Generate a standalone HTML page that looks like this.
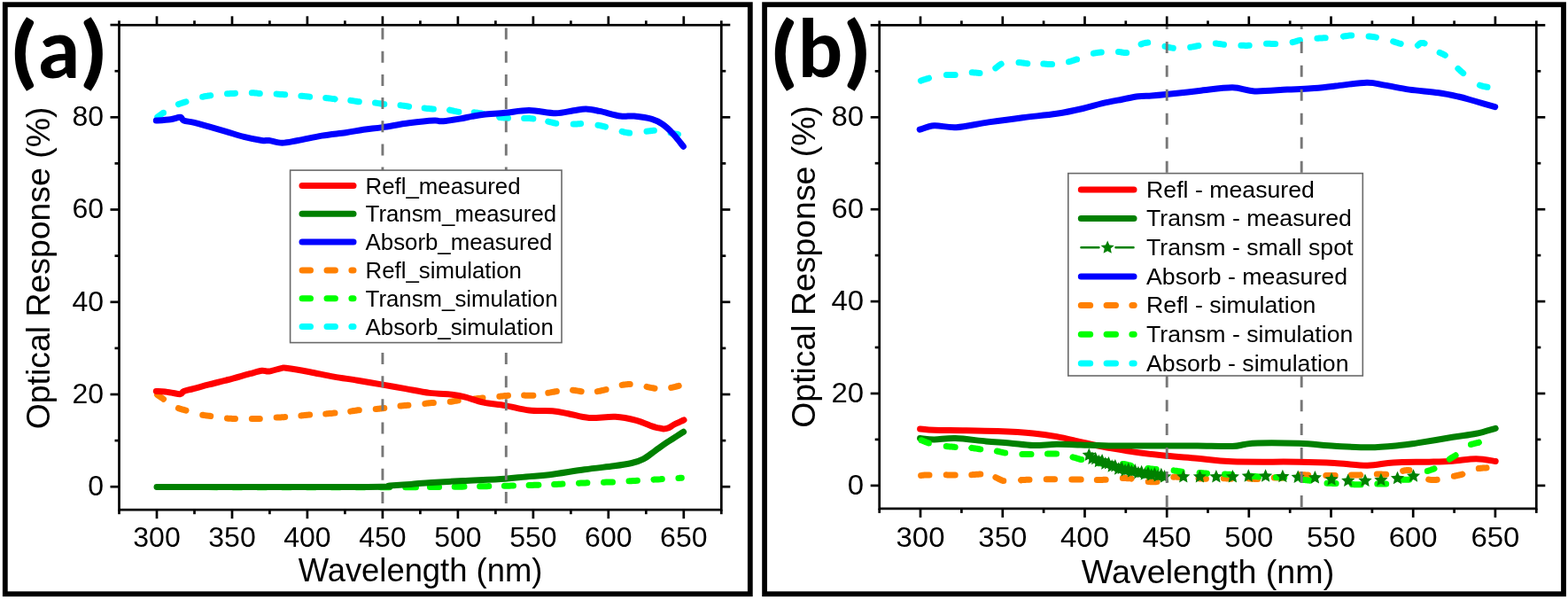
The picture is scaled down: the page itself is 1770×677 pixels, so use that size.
<!DOCTYPE html><html><head><meta charset="utf-8"><title>Optical Response</title><style>html,body{margin:0;padding:0;background:#fff;}body{width:1770px;height:677px;overflow:hidden;}svg{display:block}</style></head><body><svg width="1770" height="677" viewBox="0 0 1770 677"><rect x="5.8" y="5.2" width="841" height="665" fill="none" stroke="#000" stroke-width="5.8"/>
<rect x="863.1" y="5.2" width="901.9" height="665" fill="none" stroke="#000" stroke-width="5.8"/>
<text transform="translate(11.6 88.2) scale(1.08 1)" font-family="Carlito, Liberation Sans, sans-serif" font-weight="bold" font-size="91" fill="#000" textLength="28.35" lengthAdjust="spacingAndGlyphs" stroke="#000" stroke-width="1.3">(</text><text transform="translate(42.4 87.7)" font-family="Carlito, Liberation Sans, sans-serif" font-weight="bold" font-size="97" fill="#000" textLength="47.89" lengthAdjust="spacingAndGlyphs">a</text><text transform="translate(90.6 88.2) scale(1.08 1)" font-family="Carlito, Liberation Sans, sans-serif" font-weight="bold" font-size="91" fill="#000" textLength="28.35" lengthAdjust="spacingAndGlyphs" stroke="#000" stroke-width="1.3">)</text>
<text transform="translate(869.6 88.0) scale(1.08 1)" font-family="Carlito, Liberation Sans, sans-serif" font-weight="bold" font-size="91" fill="#000" textLength="28.35" lengthAdjust="spacingAndGlyphs" stroke="#000" stroke-width="1.3">(</text><text transform="translate(900.6 87.3)" font-family="Carlito, Liberation Sans, sans-serif" font-weight="bold" font-size="94.5" fill="#000" textLength="50.72" lengthAdjust="spacingAndGlyphs">b</text><text transform="translate(952.6 88.0) scale(1.08 1)" font-family="Carlito, Liberation Sans, sans-serif" font-weight="bold" font-size="91" fill="#000" textLength="28.35" lengthAdjust="spacingAndGlyphs" stroke="#000" stroke-width="1.3">)</text>
<path d="M177.5 445.4 L177.5 445.4 L178.3 446 L179.2 446.6 L180.2 447.3 L181.2 448 L182.2 448.7 L183.3 449.4 L184.4 450.1 L184.5 450.2M201.4 460.6 L201.4 460.6 L202.5 461 L203.6 461.3 L204.6 461.7 L205.7 462 L206.7 462.2 L207.8 462.5 L208.9 462.8 L210 463.1 L210 463.1M228.7 468.2 L228.7 468.3 L229.8 468.4 L231 468.6 L232.1 468.8 L233.2 468.9 L234.3 469.1 L235.4 469.2 L236.6 469.3 L237.7 469.5 L237.7 469.5M256.5 472.1 L256.5 472.1 L257.6 472.2 L258.8 472.2 L259.9 472.3 L261 472.3 L262.1 472.4 L263.2 472.4 L264.4 472.4 L265.5 472.5M284.3 472.5 L285.4 472.5 L286.6 472.5 L287.7 472.6 L288.8 472.6 L289.9 472.6 L291 472.6 L292.2 472.6 L293.3 472.6M312.1 471.1 L312.2 471.1 L313.4 471 L314.6 470.9 L315.7 470.9 L316.9 470.9 L318.1 470.8 L319.3 470.8 L320.5 470.7 L321.7 470.6 L321.7 470.6M339.9 469 L340 469 L341.1 468.8 L342.3 468.7 L343.5 468.6 L344.8 468.5 L346 468.3 L347.2 468.2 L348.4 468.1 L349.6 468 L349.6 468M367.7 466.9 L367.8 466.9 L369.1 466.8 L370.3 466.7 L371.6 466.6 L372.9 466.5 L374.1 466.4 L375.4 466.3 L376.7 466.1 L377.9 466 L378 466M395.7 464.1 L395.7 464.1 L396.9 463.9 L398 463.7 L399.2 463.5 L400.4 463.4 L401.6 463.2 L402.8 463 L404 462.8 L405.2 462.7 L405.3 462.7M424.2 461.5 L424.3 461.5 L425.5 461.4 L426.7 461.3 L427.9 461.2 L429 461.1 L430.2 461 L431.4 460.8 L432.6 460.7 L433.8 460.6 L433.8 460.6M452 458 L453.1 457.9 L454.2 457.8 L455.3 457.7 L456.4 457.6 L457.5 457.5 L458.6 457.4 L459.8 457.3 L460.9 457.2 L460.9 457.2M479.8 455.4 L479.9 455.4 L481.1 455.2 L482.2 455.1 L483.4 455 L484.6 454.8 L485.8 454.7 L487 454.6 L488.2 454.5 L489.3 454.4 L489.4 454.4M508.2 453.3 L508.2 453.3 L509.3 453.2 L510.5 453 L511.6 452.8 L512.7 452.6 L513.8 452.4 L514.9 452.2 L516.1 452 L517.2 451.8 L517.2 451.8M536 450 L536 450 L537.1 449.9 L538.3 449.7 L539.4 449.6 L540.5 449.5 L541.6 449.4 L542.7 449.3 L543.9 449.1 L545 449 L545 449M563.8 447.3 L563.9 447.3 L565.1 447.1 L566.3 447 L567.5 446.9 L568.7 446.7 L569.9 446.6 L571.1 446.5 L572.3 446.4 L573.5 446.3 L573.5 446.3M591.6 446.1 L591.7 446.1 L593 446.2 L594.3 446.2 L595.5 446.2 L596.8 446.2 L598.1 446.3 L599.4 446.3 L600.6 446.3 L601.9 446.2 L601.9 446.2M618.8 443.3 L618.8 443.3 L619.9 443.1 L621.1 442.9 L622.3 442.6 L623.5 442.4 L624.7 442.2 L625.9 442 L627.1 441.8 L628.3 441.6 L628.4 441.6M646.6 440.2 L646.6 440.2 L647.8 440.4 L649 440.5 L650.2 440.7 L651.4 440.9 L652.6 441.1 L653.8 441.3 L655 441.5 L656.2 441.7 L656.2 441.7M674.4 441.6 L674.4 441.6 L675.6 441.4 L676.8 441.2 L678 441 L679.2 440.7 L680.4 440.4 L681.6 440.2 L682.8 439.9 L684 439.6 L684.1 439.6M702.2 434.4 L703.3 434.2 L704.4 434 L705.5 433.9 L706.7 433.8 L707.8 433.7 L708.9 433.6 L710.1 433.6 L711.2 433.6 L711.2 433.6M730 436.4 L730 436.4 L731.1 436.7 L732.3 436.9 L733.4 437.2 L734.5 437.4 L735.6 437.6 L736.8 437.8 L737.9 438 L739 438.2 L739 438.2M757.7 437.4 L757.7 437.4 L759 437.2 L760.2 436.9 L761.4 436.6 L762.6 436.3 L763.7 436 L764.8 435.7 L765.9 435.5 L766.2 435.4" fill="none" stroke="#ff8000" stroke-width="7.0" stroke-linecap="round" stroke-linejoin="round"/>
<path d="M179.7 549.6 L189.3 549.6M207.5 549.6 L208.3 549.6 L217.1 549.6M235.3 549.6 L244.9 549.7M263.1 549.7 L272.7 549.7M290.9 549.7 L300.5 549.7M318.7 549.7 L328.3 549.7M346.5 549.7 L356.1 549.7M374.3 549.8 L383.9 549.8M402.1 549.8 L406.6 549.8 L411.7 549.8M429.9 549.8 L439.5 549.8M457.7 549.8 L458.5 549.8 L463.8 549.8 L467.2 549.8 L468.9 549.8 L469.5 549.8 L469.2 549.8 L468.5 549.8 L467.8 549.7 L467.6 549.7M485.4 549.6 L486.2 549.6 L488.5 549.6 L490.8 549.6 L493.2 549.5 L495.5 549.5 L495.6 549.5M513.2 549.3 L514.5 549.3 L516.9 549.2 L519.2 549.2 L521.6 549.2 L524 549.1 L524 549.1M541.6 548.8 L542.6 548.8 L544.9 548.8 L547.2 548.7 L549.5 548.7 L551.8 548.6 L551.8 548.6M569.4 548.3 L570.2 548.3 L572.5 548.2 L574.8 548.2 L577.1 548.1 L579.5 548.1 L579.5 548.1M597.1 547.5 L598.4 547.5 L600.8 547.4 L603.2 547.3 L605.5 547.3 L607.9 547.2 L607.9 547.2M625.6 546.5 L626 546.5 L628.3 546.4 L630.5 546.3 L632.8 546.2 L635 546.1M653.5 545.2 L655.8 545.1 L658.2 545 L660.5 544.9 L662.8 544.8 L662.9 544.8M681.5 544.2 L681.9 544.2 L684.3 544.1 L686.7 544.1 L689.1 544 L691.4 543.9 L691.5 543.9M710 542.8 L710.1 542.8 L712.4 542.7 L714.7 542.5 L717.1 542.4 L719.4 542.2 L719.4 542.2M738 541.2 L738.4 541.1 L740.7 541 L743 540.9 L745.3 540.8 L747.3 540.6M765.9 539.5 L766.1 539.5 L767.8 539.3 L769.3 539.2 L769.3 539.2" fill="none" stroke="#00ff00" stroke-width="7.0" stroke-linecap="round" stroke-linejoin="round"/>
<path d="M177.8 132 L178.6 131.5 L179.5 130.8 L180.4 130.1 L181.4 129.4 L182.4 128.7 L183.4 127.9 L184.4 127.2 L184.5 127.2M201.4 117.6 L201.4 117.6 L202.5 117.2 L203.6 116.8 L204.6 116.5 L205.7 116.1 L206.7 115.8 L207.8 115.5 L208.9 115.1 L210 114.8 L210 114.8M228.6 109.2 L228.7 109.2 L229.8 109 L231 108.7 L232.1 108.5 L233.2 108.4 L234.3 108.2 L235.4 108 L236.6 107.9 L237.7 107.7 L237.7 107.7M256.5 105.8 L256.5 105.8 L257.6 105.8 L258.8 105.7 L259.9 105.6 L261 105.6 L262.1 105.5 L263.2 105.4 L264.4 105.4 L265.5 105.3M284.3 104.7 L285.4 104.8 L286.6 104.8 L287.7 104.9 L288.8 105 L289.9 105.1 L291 105.3 L292.2 105.4 L293.3 105.4M312.1 106.1 L312.2 106.1 L313.4 106.2 L314.6 106.3 L315.7 106.4 L316.9 106.5 L318.1 106.6 L319.3 106.6 L320.5 106.7 L321.7 106.8 L321.7 106.8M339.9 108.2 L340 108.2 L341.1 108.3 L342.3 108.5 L343.5 108.6 L344.8 108.7 L346 108.8 L347.2 109 L348.4 109.1 L349.6 109.2 L349.6 109.2M367.7 110.5 L367.8 110.5 L369.1 110.7 L370.3 110.8 L371.6 111 L372.9 111.1 L374.1 111.3 L375.4 111.4 L376.7 111.6 L377.9 111.7 L378 111.8M395.8 113.4 L395.8 113.4 L397 113.6 L398.2 113.7 L399.3 113.9 L400.5 114.1 L401.7 114.3 L402.9 114.5 L404.1 114.7 L405.3 114.8 L405.3 114.8M423.5 116.1 L423.6 116.1 L424.9 116.2 L426.1 116.4 L427.4 116.6 L428.7 116.8 L429.9 117 L431.2 117.2 L432.4 117.4 L433.7 117.5 L433.8 117.5M452 118.8 L452 118.8 L453.2 118.9 L454.4 119.1 L455.6 119.3 L456.8 119.5 L458 119.6 L459.2 119.8 L460.4 120 L461.6 120.2 L461.6 120.2M479.1 122.1 L479.2 122.1 L480.4 122.2 L481.7 122.4 L482.9 122.5 L484.2 122.6 L485.5 122.7 L486.8 122.8 L488 122.9 L489.3 123 L489.4 123M507.6 124.2 L507.7 124.3 L509 124.5 L510.2 124.8 L511.5 125 L512.8 125.3 L514.1 125.6 L515.3 125.8 L516.6 126.1 L517.8 126.3 L517.9 126.3M535.3 126.8 L535.3 126.8 L536.5 126.9 L537.7 127.1 L538.9 127.2 L540.1 127.4 L541.3 127.6 L542.5 127.8 L543.7 128 L544.9 128.2 L545 128.2M563.8 132.3 L563.9 132.4 L565.1 132.5 L566.3 132.7 L567.5 132.8 L568.7 132.9 L569.9 133 L571.1 133.1 L572.3 133.2 L573.5 133.3 L573.5 133.3M591.6 133.5 L591.7 133.5 L593 133.5 L594.3 133.5 L595.5 133.6 L596.8 133.6 L598.1 133.6 L599.4 133.7 L600.6 133.8 L601.9 133.9 L601.9 133.9M618.7 137.1 L619.8 137.4 L620.9 137.7 L622 137.9 L623.1 138.2 L624.3 138.5 L625.4 138.8 L626.6 139 L627.7 139.2 L627.8 139.2M647.2 140.1 L648.2 140.1 L649.3 140 L650.4 139.9 L651.4 139.9 L652.4 139.8 L653.5 139.7 L654.6 139.7 L655.6 139.6M675 141.2 L676 141.4 L677.1 141.6 L678.2 141.8 L679.2 142.1 L680.3 142.3 L681.3 142.6 L682.4 142.8 L683.5 143.1M702.1 148.4 L703.2 148.7 L704.3 149 L705.3 149.2 L706.4 149.4 L707.4 149.6 L708.5 149.8 L709.6 150 L710.6 150.1M730 148.2 L731.1 148.1 L732.1 147.9 L733.2 147.8 L734.2 147.7 L735.3 147.5 L736.4 147.4 L737.4 147.3 L738.4 147.3M757.1 150 L757.1 150 L758.3 150.2 L759.6 150.5 L760.8 150.7 L761.9 150.9 L763.1 151.1 L764.2 151.3 L765.2 151.5 L765.5 151.6" fill="none" stroke="#00ffff" stroke-width="7.0" stroke-linecap="round" stroke-linejoin="round"/>
<path d="M176.3 441.4 C178.8 441.6 186.7 442.1 191.2 442.7 C195.7 443.2 200.7 444.9 203.4 444.7 C206.1 444.5 205 442.4 207.5 441.4 C210 440.4 213.6 439.9 218.3 438.6 C223 437.4 229.3 435.6 235.9 433.9 C242.5 432.2 249.9 430.5 257.6 428.5 C265.3 426.5 275.7 423.4 282 421.7 C288.3 420 292 418.8 295.6 418.3 C299.2 417.9 300.1 419.4 303.7 419 C307.3 418.6 314.1 416.2 317.3 415.6 C320.5 415 317.3 414.5 322.7 415.2 C328.1 415.9 340.8 418 349.8 419.7 C358.8 421.4 367.9 423.5 376.9 425.1 C385.9 426.7 394.6 427.7 403.6 429.2 C412.6 430.7 421.7 432.3 430.7 433.9 C439.7 435.5 448.8 437 457.8 438.6 C466.8 440.2 475.9 442.3 484.9 443.4 C493.9 444.5 505.2 444.6 512 445.4 C518.8 446.2 520 446.6 525.6 448.1 C531.2 449.6 538.5 452.6 545.9 454.2 C553.3 455.8 561.7 456.1 570.3 457.6 C578.9 459.1 588.6 462.1 597.5 463.1 C606.4 464.1 616.3 463.2 623.6 463.8 C630.9 464.4 634.5 465.4 641.4 466.7 C648.3 468 656.1 470.9 665 471.5 C673.9 472.1 685.7 469.8 694.6 470.3 C703.5 470.8 711.3 472.6 718.2 474.4 C725.1 476.2 731.9 479.5 735.9 480.9 C739.9 482.3 739.8 482.1 742 482.6 C744.2 483.1 746.8 483.9 748.9 483.9 C751 483.9 752.8 483.5 754.8 482.7 C756.8 481.9 758.1 480.5 761 479 C763.9 477.5 770.2 474.7 772 473.8" fill="none" stroke="#ff0000" stroke-width="7.0" stroke-linecap="round" stroke-linejoin="round"/>
<path d="M177 549.4 C216.7 549.4 371.2 549.6 415 549.4 C458.8 549.2 431.9 548.5 440 548 C448.1 547.5 455.7 547 463.6 546.4 C471.5 545.8 477.4 545 487.3 544.4 C497.2 543.8 508.9 543.3 522.7 542.6 C536.5 541.9 558.2 541.1 570 540.3 C581.8 539.5 585.4 538.6 593.7 537.9 C602 537.1 609 537.1 620 535.8 C631 534.4 647.7 531.5 659.9 529.8 C672.1 528.1 684.2 527 693.1 525.8 C702 524.6 707.6 523.8 713.1 522.5 C718.6 521.2 722 520.2 726.4 517.9 C730.8 515.6 735.2 511.7 739.6 508.6 C744 505.5 747.6 502.8 752.9 499.2 C758.2 495.6 768.5 489.3 771.6 487.3" fill="none" stroke="#008000" stroke-width="7.0" stroke-linecap="round" stroke-linejoin="round"/>
<path d="M176.3 136.1 C179 135.9 188 135.3 192.5 134.7 C197 134.1 200.9 132.1 203.4 132.3 C205.9 132.5 205 135.1 207.5 136.1 C210 137.1 213.6 137 218.3 138.1 C223 139.2 229.8 141.2 235.9 142.9 C242 144.6 248.3 146.4 254.9 148.3 C261.5 150.2 268.5 152.7 275.3 154.4 C282.1 156.1 290.9 157.8 295.6 158.5 C300.3 159.2 299.9 158.1 303.7 158.5 C307.5 158.9 313.2 161.2 318.6 161.2 C324 161.2 328.8 159.8 336.3 158.5 C343.8 157.2 354.4 154.6 363.4 153.1 C372.3 151.6 382.2 150.8 390 149.7 C397.8 148.6 403.3 147.3 410.3 146.3 C417.3 145.3 423.4 144.8 432 143.6 C440.6 142.3 452.2 140.1 461.9 138.8 C471.6 137.6 484.2 136.4 490.3 136.1 C496.4 135.8 493.8 137.1 498.5 136.8 C503.2 136.5 513.1 135 518.8 134.1 C524.4 133.2 527.9 132.2 532.4 131.4 C536.9 130.6 539.6 130 545.9 129.3 C552.2 128.6 561.7 128.1 570.3 127.3 C578.9 126.5 588 124.5 597.5 124.6 C607 124.7 618.9 127.8 627.2 127.8 C635.5 127.8 641.6 125.6 647.3 124.8 C653 124 656.6 122.9 661.5 123 C666.4 123.1 670.3 124.1 676.8 125.4 C683.3 126.7 694 130.1 700.5 131 C707 131.9 709.9 130.4 715.8 131 C721.7 131.6 730.6 132.8 735.9 134.3 C741.2 135.8 743.8 137.4 747.8 140.2 C751.8 142.9 755.7 146.6 759.6 150.8 C763.5 155 769.4 162.9 771.4 165.3" fill="none" stroke="#0000ff" stroke-width="7.0" stroke-linecap="round" stroke-linejoin="round"/>
<line x1="431.9" y1="28.3" x2="431.9" y2="575.2" stroke="#777" stroke-width="2.9" stroke-dasharray="13 13.17" stroke-dashoffset="22.87"/>
<line x1="571.3" y1="28.3" x2="571.3" y2="575.2" stroke="#777" stroke-width="2.9" stroke-dasharray="13 13.17" stroke-dashoffset="22.87"/>
<g stroke="#000" stroke-width="2.7" stroke-linecap="butt"><line x1="134.5" y1="575.2" x2="134.5" y2="580.2"/><line x1="134.5" y1="28.3" x2="134.5" y2="23.3"/><line x1="177" y1="575.2" x2="177" y2="585.2"/><line x1="177" y1="28.3" x2="177" y2="18.3"/><line x1="219.5" y1="575.2" x2="219.5" y2="580.2"/><line x1="219.5" y1="28.3" x2="219.5" y2="23.3"/><line x1="262" y1="575.2" x2="262" y2="585.2"/><line x1="262" y1="28.3" x2="262" y2="18.3"/><line x1="304.4" y1="575.2" x2="304.4" y2="580.2"/><line x1="304.4" y1="28.3" x2="304.4" y2="23.3"/><line x1="346.9" y1="575.2" x2="346.9" y2="585.2"/><line x1="346.9" y1="28.3" x2="346.9" y2="18.3"/><line x1="389.4" y1="575.2" x2="389.4" y2="580.2"/><line x1="389.4" y1="28.3" x2="389.4" y2="23.3"/><line x1="431.9" y1="575.2" x2="431.9" y2="585.2"/><line x1="431.9" y1="28.3" x2="431.9" y2="18.3"/><line x1="474.4" y1="575.2" x2="474.4" y2="580.2"/><line x1="474.4" y1="28.3" x2="474.4" y2="23.3"/><line x1="516.9" y1="575.2" x2="516.9" y2="585.2"/><line x1="516.9" y1="28.3" x2="516.9" y2="18.3"/><line x1="559.4" y1="575.2" x2="559.4" y2="580.2"/><line x1="559.4" y1="28.3" x2="559.4" y2="23.3"/><line x1="601.9" y1="575.2" x2="601.9" y2="585.2"/><line x1="601.9" y1="28.3" x2="601.9" y2="18.3"/><line x1="644.4" y1="575.2" x2="644.4" y2="580.2"/><line x1="644.4" y1="28.3" x2="644.4" y2="23.3"/><line x1="686.8" y1="575.2" x2="686.8" y2="585.2"/><line x1="686.8" y1="28.3" x2="686.8" y2="18.3"/><line x1="729.3" y1="575.2" x2="729.3" y2="580.2"/><line x1="729.3" y1="28.3" x2="729.3" y2="23.3"/><line x1="771.8" y1="575.2" x2="771.8" y2="585.2"/><line x1="771.8" y1="28.3" x2="771.8" y2="18.3"/><line x1="814.3" y1="575.2" x2="814.3" y2="580.2"/><line x1="814.3" y1="28.3" x2="814.3" y2="23.3"/><line x1="134.5" y1="549.2" x2="124.5" y2="549.2"/><line x1="814.3" y1="549.2" x2="824.3" y2="549.2"/><line x1="134.5" y1="497.1" x2="129.5" y2="497.1"/><line x1="814.3" y1="497.1" x2="819.3" y2="497.1"/><line x1="134.5" y1="445" x2="124.5" y2="445"/><line x1="814.3" y1="445" x2="824.3" y2="445"/><line x1="134.5" y1="392.9" x2="129.5" y2="392.9"/><line x1="814.3" y1="392.9" x2="819.3" y2="392.9"/><line x1="134.5" y1="340.8" x2="124.5" y2="340.8"/><line x1="814.3" y1="340.8" x2="824.3" y2="340.8"/><line x1="134.5" y1="288.7" x2="129.5" y2="288.7"/><line x1="814.3" y1="288.7" x2="819.3" y2="288.7"/><line x1="134.5" y1="236.5" x2="124.5" y2="236.5"/><line x1="814.3" y1="236.5" x2="824.3" y2="236.5"/><line x1="134.5" y1="184.4" x2="129.5" y2="184.4"/><line x1="814.3" y1="184.4" x2="819.3" y2="184.4"/><line x1="134.5" y1="132.3" x2="124.5" y2="132.3"/><line x1="814.3" y1="132.3" x2="824.3" y2="132.3"/><line x1="134.5" y1="80.2" x2="129.5" y2="80.2"/><line x1="814.3" y1="80.2" x2="819.3" y2="80.2"/><line x1="134.5" y1="28.1" x2="124.5" y2="28.1"/><line x1="814.3" y1="28.1" x2="824.3" y2="28.1"/><rect x="134.5" y="28.3" width="679.8" height="546.9" fill="none"/></g><g font-family="Liberation Sans, Arial, sans-serif" font-size="32" fill="#000"><text transform="translate(177 617.1) scale(1.0 1)" text-anchor="middle">300</text><text transform="translate(262 617.1) scale(1.0 1)" text-anchor="middle">350</text><text transform="translate(346.9 617.1) scale(1.0 1)" text-anchor="middle">400</text><text transform="translate(431.9 617.1) scale(1.0 1)" text-anchor="middle">450</text><text transform="translate(516.9 617.1) scale(1.0 1)" text-anchor="middle">500</text><text transform="translate(601.9 617.1) scale(1.0 1)" text-anchor="middle">550</text><text transform="translate(686.8 617.1) scale(1.0 1)" text-anchor="middle">600</text><text transform="translate(771.8 617.1) scale(1.0 1)" text-anchor="middle">650</text><text transform="translate(117 558.9) scale(1.0 1)" text-anchor="end">0</text><text transform="translate(117 454.7) scale(1.0 1)" text-anchor="end">20</text><text transform="translate(117 350.5) scale(1.0 1)" text-anchor="end">40</text><text transform="translate(117 246.2) scale(1.0 1)" text-anchor="end">60</text><text transform="translate(117 142) scale(1.0 1)" text-anchor="end">80</text></g>
<rect x="327.6" y="192.1" width="306.4" height="194.5" fill="#fff" stroke="#6a6a6a" stroke-width="1.6"/><line x1="341" y1="209.5" x2="399" y2="209.5" stroke="#ff0000" stroke-width="7.0" stroke-linecap="round"/><text x="412.6" y="218.5" font-family="Liberation Sans, Arial, sans-serif" font-size="25.8" fill="#000">Refl_measured</text><line x1="341" y1="241.3" x2="399" y2="241.3" stroke="#008000" stroke-width="7.0" stroke-linecap="round"/><text x="412.6" y="250.3" font-family="Liberation Sans, Arial, sans-serif" font-size="25.8" fill="#000">Transm_measured</text><line x1="341" y1="273.1" x2="399" y2="273.1" stroke="#0000ff" stroke-width="7.0" stroke-linecap="round"/><text x="412.6" y="282.1" font-family="Liberation Sans, Arial, sans-serif" font-size="25.8" fill="#000">Absorb_measured</text><line x1="341.1" y1="304.9" x2="399" y2="304.9" stroke="#ff8000" stroke-width="7.0" stroke-linecap="round" stroke-dasharray="9.4 18.5"/><text x="412.6" y="313.9" font-family="Liberation Sans, Arial, sans-serif" font-size="25.8" fill="#000">Refl_simulation</text><line x1="341.1" y1="336.7" x2="399" y2="336.7" stroke="#00ff00" stroke-width="7.0" stroke-linecap="round" stroke-dasharray="9.4 18.5"/><text x="412.6" y="345.7" font-family="Liberation Sans, Arial, sans-serif" font-size="25.8" fill="#000">Transm_simulation</text><line x1="341.1" y1="368.5" x2="399" y2="368.5" stroke="#00ffff" stroke-width="7.0" stroke-linecap="round" stroke-dasharray="9.4 18.5"/><text x="412.6" y="377.5" font-family="Liberation Sans, Arial, sans-serif" font-size="25.8" fill="#000">Absorb_simulation</text>
<text transform="translate(474.5 656.3)" text-anchor="middle" font-family="Liberation Sans, Arial, sans-serif" font-size="36.4" fill="#000">Wavelength (nm)</text>
<text transform="translate(56 302.5) rotate(-90)" text-anchor="middle" font-family="Liberation Sans, Arial, sans-serif" font-size="37.4" fill="#000">Optical Response (%)</text>
<path d="M1038.6 484 C1041.3 484.2 1046.6 485 1054.6 485.3 C1062.6 485.6 1074.5 485.5 1086.5 485.7 C1098.5 485.9 1113.1 486.1 1126.4 486.6 C1139.7 487.1 1155.2 487.9 1166.3 488.9 C1177.4 489.9 1184 491 1192.9 492.6 C1201.9 494.2 1212.2 496.9 1220 498.6 C1227.8 500.3 1229.4 501.1 1239.6 503 C1249.8 504.9 1268.1 508.2 1280.9 510.1 C1293.7 512 1304.6 513.1 1316.4 514.3 C1328.2 515.5 1339.4 516.1 1351.8 517.2 C1364.2 518.3 1371.8 520.1 1390.9 520.8 C1410 521.5 1447.2 520.9 1466.5 521.2 C1485.8 521.5 1493.6 521.8 1506.4 522.5 C1519.2 523.2 1532.5 525.3 1543.6 525.2 C1554.7 525.1 1561.3 522.6 1572.9 521.9 C1584.5 521.2 1602.1 521.5 1613.2 521.2 C1624.3 520.9 1630.9 520.8 1639.7 520.2 C1648.5 519.6 1658.2 517.8 1666.3 517.8 C1674.4 517.8 1684.5 520 1688.2 520.5" fill="none" stroke="#ff0000" stroke-width="7.0" stroke-linecap="round" stroke-linejoin="round"/>
<path d="M1038.6 494.6 C1041.3 494.8 1047.9 495.9 1054.6 495.9 C1061.2 495.9 1068.8 494.3 1078.5 494.6 C1088.2 494.9 1102.9 497 1113.1 497.9 C1123.3 498.8 1130.8 499.1 1139.7 499.9 C1148.6 500.7 1157.4 502.4 1166.3 502.6 C1175.2 502.8 1184 501.4 1192.9 501.3 C1201.9 501.2 1209.3 501.6 1220 501.9 C1230.7 502.2 1241.2 502.8 1257.3 503 C1273.4 503.2 1300.7 503 1316.4 503 C1332.2 503 1339.4 502.9 1351.8 503 C1364.2 503.1 1382 503.8 1390.9 503.5 C1399.8 503.2 1400.2 502.1 1405 501.5 C1409.8 500.9 1409.7 500.1 1419.9 499.9 C1430.2 499.7 1452.1 499.8 1466.5 500.3 C1480.9 500.9 1493.1 502.4 1506.4 503.2 C1519.7 503.9 1534.1 504.9 1546.3 504.8 C1558.5 504.7 1570.6 503.4 1579.5 502.6 C1588.4 501.8 1589.9 501.4 1599.9 499.9 C1609.9 498.3 1628.6 495.1 1639.7 493.3 C1650.8 491.5 1658.2 491 1666.3 489.3 C1674.4 487.6 1684.5 484.3 1688.2 483.3" fill="none" stroke="#008000" stroke-width="7.0" stroke-linecap="round" stroke-linejoin="round"/>
<path d="M1038.2 146.2 C1040.9 145.5 1047.7 142.2 1054.6 141.8 C1061.5 141.4 1069.3 144.3 1079.5 143.7 C1089.7 143 1103.5 139.7 1116 137.9 C1128.5 136.1 1141.6 134.3 1154.4 132.7 C1167.2 131.1 1181.5 130 1192.8 128.3 C1204.1 126.6 1213.6 124.5 1222.2 122.5 C1230.8 120.5 1236.9 118.3 1244.3 116.6 C1251.7 114.9 1259.7 113.5 1266.5 112.2 C1273.3 110.9 1279.3 109.5 1284.9 108.8 C1290.5 108.1 1294.7 108.5 1300 108.1 C1305.3 107.7 1307.6 107.5 1316.5 106.6 C1325.4 105.7 1341 103.8 1353.4 102.5 C1365.9 101.2 1380.7 98.7 1391.2 98.8 C1401.7 98.9 1405.9 102.5 1416.2 102.9 C1426.5 103.3 1442.5 101.6 1453.1 101.1 C1463.7 100.6 1470.9 100.5 1480 99.8 C1489.1 99.1 1497.2 98.1 1507.7 97 C1518.2 95.9 1533.6 93.5 1542.8 93.3 C1552 93.1 1555.1 94.8 1563.1 96.1 C1571.1 97.4 1580.6 99.6 1590.8 101.1 C1601 102.5 1614.8 103.5 1624 104.8 C1633.2 106.1 1639.4 107.5 1646.2 109 C1653 110.5 1657.7 112.1 1664.6 114 C1671.5 115.9 1683.8 119.5 1687.7 120.6" fill="none" stroke="#0000ff" stroke-width="7.0" stroke-linecap="round" stroke-linejoin="round"/>
<path d="M1039.6 536.4 L1039.8 536.4 L1040.9 536.3 L1042.1 536.2 L1043.4 536.1 L1044.7 536.1 L1046.1 536 L1047.4 535.9 L1048.8 535.9 L1049 535.9M1068.2 535.8 L1068.3 535.8 L1069.6 535.9 L1070.8 535.9 L1072 535.9 L1073.2 536 L1074.5 536 L1075.7 536 L1076.9 536.1 L1078.1 536.1 L1078.2 536.1M1096.8 535.7 L1096.9 535.7 L1098.2 535.6 L1099.4 535.5 L1100.6 535.4 L1101.9 535.3 L1103.1 535.2 L1104.4 535.2 L1105.6 535.1 L1106.8 535.1 L1106.8 535.1M1123.9 538.6 L1124.9 539.1 L1126 539.6 L1127.1 540.2 L1128.2 540.7 L1129.3 541.2 L1130.4 541.7 L1131.5 542.2 L1132.7 542.6 L1132.8 542.6M1152.6 541.7 L1152.7 541.6 L1153.9 541.6 L1155 541.5 L1156.2 541.5 L1157.3 541.4 L1158.5 541.3 L1159.6 541.3 L1160.8 541.2 L1161.9 541.2 L1162 541.2M1181.2 540.7 L1181.3 540.7 L1182.4 540.7 L1183.6 540.7 L1184.7 540.7 L1185.9 540.7 L1187.1 540.7 L1188.2 540.7 L1189.4 540.7 L1190.5 540.7 L1190.6 540.7M1209.8 541.1 L1210 541.1 L1211.3 541.1 L1212.5 541.1 L1213.8 541.1 L1215.1 541.1 L1216.3 541.1 L1217.6 541.1 L1218.8 541.1 L1220.1 541.1 L1220.2 541.1M1238.3 541.5 L1238.4 541.5 L1239.6 541.5 L1240.8 541.5 L1242 541.4 L1243.2 541.4 L1244.4 541.4 L1245.6 541.3 L1246.9 541.3 L1248.1 541.2 L1248.2 541.2M1267.3 539.6 L1267.4 539.6 L1268.6 539.6 L1269.8 539.6 L1271 539.6 L1272.2 539.7 L1273.4 539.7 L1274.6 539.8 L1275.8 539.8 L1277 539.9 L1277.1 540M1296.2 543.5 L1296.3 543.5 L1297.5 543.6 L1298.7 543.7 L1299.9 543.8 L1301.2 543.8 L1302.4 543.8 L1303.6 543.8 L1304.8 543.7 L1306 543.6 L1306.1 543.6M1324.8 538.2 L1325.1 538.2 L1326.3 538.1 L1327.4 538.1 L1328.5 538.2 L1329.7 538.2 L1330.8 538.3 L1331.9 538.4 L1333.1 538.5 L1334.2 538.6 L1334.2 538.6M1353 539.8 L1354 539.9 L1355 540 L1356.1 540 L1357.1 540.1 L1358.2 540.2 L1359.2 540.2 L1360.3 540.2 L1361.4 540.3M1381.3 539.7 L1382.4 539.8 L1383.4 539.8 L1384.5 539.9 L1385.5 540 L1386.5 540.1 L1387.6 540.1 L1388.6 540.2 L1389.7 540.2M1409.8 540.1 L1410 540.1 L1411.2 540.1 L1412.4 540.2 L1413.6 540.3 L1414.8 540.3 L1416 540.4 L1417.2 540.5 L1418.4 540.5 L1419.6 540.5 L1419.7 540.5M1438.3 538.9 L1438.3 538.9 L1439.5 539 L1440.6 539 L1441.8 539 L1443 539.1 L1444.1 539.1 L1445.3 539.2 L1446.5 539.2 L1447.6 539.2 L1447.7 539.2M1466.8 535.8 L1466.9 535.8 L1468.1 535.8 L1469.3 535.8 L1470.5 535.8 L1471.7 535.8 L1472.9 535.8 L1474.1 535.9 L1475.3 535.9 L1476.5 535.9 L1476.7 535.9M1496.8 536.5 L1497 536.5 L1498.3 536.5 L1499.6 536.6 L1500.9 536.6 L1502.1 536.6 L1503.4 536.6 L1504.6 536.6 L1505.9 536.5 L1507.1 536.5 L1507.2 536.5M1525.3 536 L1525.4 536 L1526.7 536 L1527.9 536 L1529.2 536 L1530.5 536 L1531.7 536 L1533 536.1 L1534.3 536.1 L1535.5 536.1 L1535.7 536M1554.3 535 L1554.5 535 L1555.7 535 L1557 535 L1558.2 535.1 L1559.5 535.1 L1560.7 535.2 L1562 535.2 L1563.3 535.2 L1564.5 535.2 L1564.7 535.2M1583.6 531.4 L1584.3 531.2 L1585.2 531 L1586.2 530.8 L1587.1 530.7 L1588 530.6 L1588.9 530.5 L1589.9 530.5 L1590.9 530.6 L1591 530.6M1612.7 541 L1613 541.1 L1614.2 541.3 L1615.4 541.4 L1616.5 541.5 L1617.7 541.5 L1618.8 541.5 L1619.9 541.5 L1621 541.4 L1622.2 541.3 L1622.2 541.3M1641.3 537.3 L1641.5 537.3 L1642.6 537 L1643.8 536.8 L1644.9 536.5 L1646.1 536.3 L1647.2 536 L1648.4 535.8 L1649.5 535.5 L1650.7 535.2 L1650.8 535.1M1669.3 528.6 L1669.3 528.6 L1670.5 528.5 L1671.7 528.3 L1672.9 528.2 L1674 528.1 L1675.2 528.1 L1676.3 528 L1677.4 528 L1678 527.9" fill="none" stroke="#ff8000" stroke-width="7.0" stroke-linecap="round" stroke-linejoin="round"/>
<path d="M1040.1 496.8 L1040.2 496.8 L1041.2 497.2 L1042.2 497.6 L1043.3 498.1 L1044.5 498.6 L1045.7 499 L1047 499.5 L1048.2 499.9 L1048.4 499.9M1068.2 503.5 L1068.4 503.5 L1069.6 503.7 L1070.8 503.8 L1072.1 503.9 L1073.3 504 L1074.5 504.1 L1075.7 504.2 L1076.9 504.3 L1078.1 504.4 L1078.2 504.4M1096.8 505.4 L1096.9 505.5 L1098.1 505.6 L1099.3 505.8 L1100.6 506 L1101.8 506.1 L1103 506.3 L1104.3 506.5 L1105.5 506.7 L1106.7 506.9 L1106.8 506.9M1125.4 509 L1125.4 509 L1126.6 509.3 L1127.7 509.5 L1128.9 509.8 L1130 510.1 L1131.2 510.3 L1132.3 510.6 L1133.5 510.9 L1134.6 511.1 L1134.7 511.1M1153.9 512.6 L1154.1 512.6 L1155.3 512.6 L1156.5 512.6 L1157.8 512.6 L1159 512.5 L1160.2 512.5 L1161.5 512.5 L1162.7 512.4 L1163.9 512.4 L1164 512.4M1182.5 511.9 L1182.6 511.9 L1183.8 511.9 L1185.1 511.9 L1186.3 511.9 L1187.5 511.9 L1188.8 511.9 L1190 512 L1191.3 512 L1192.5 512.1 L1192.6 512.1M1211 515.8 L1212 516.1 L1213.1 516.4 L1214.1 516.7 L1215.1 517 L1216.2 517.3 L1217.3 517.6 L1218.4 518 L1219.5 518.3 L1220.7 518.6 L1220.8 518.6M1239.8 522.5 L1240 522.5 L1241.2 522.7 L1242.3 522.8 L1243.3 523 L1244.3 523.1 L1245.2 523.2 L1246.1 523.2 L1247 523.3 L1247.9 523.3 L1248.9 523.4 L1249.2 523.4M1267.3 523.5 L1267.7 523.5 L1268.7 523.6 L1269.7 523.7 L1270.5 523.9 L1271.3 524 L1272 524.2 L1272.7 524.4 L1273.5 524.6 L1274.3 524.8 L1275.2 525 L1276.1 525.2 L1276.7 525.4M1295.8 528.5 L1296.2 528.5 L1298.1 528.8 L1300 529 L1301.9 529.2 L1303.8 529.4 L1305.2 529.5M1325.1 530.9 L1325.6 531 L1326.8 531.2 L1327.9 531.3 L1329 531.5 L1330.1 531.7 L1331.1 531.8 L1332.1 532 L1333.1 532.1 L1334.1 532.3M1354.1 533.4 L1355.2 533.5 L1356.2 533.6 L1357.3 533.7 L1358.3 533.8 L1359.3 533.9 L1360.4 534 L1361.4 534.1 L1362.5 534.2M1382.5 535.1 L1383.5 535.1 L1384.5 535.2 L1385.5 535.2 L1386.5 535.3 L1387.5 535.3 L1388.6 535.3 L1389.6 535.4 L1390.7 535.5 L1390.7 535.5M1411.8 537.2 L1411.9 537.2 L1413.1 537.3 L1414.2 537.4 L1415.3 537.5 L1416.3 537.6 L1417.4 537.6 L1418.5 537.7 L1419.6 537.8 L1420.7 537.9 L1420.7 537.9M1440.3 538.6 L1440.4 538.6 L1441.5 538.6 L1442.7 538.6 L1443.9 538.6 L1445 538.7 L1446.1 538.7 L1447.3 538.7 L1448.5 538.8 L1449.6 538.8 L1449.7 538.8M1469.3 541.3 L1469.4 541.3 L1470.6 541.4 L1471.7 541.5 L1472.9 541.6 L1474 541.7 L1475.2 541.8 L1476.3 541.9 L1477.5 542.1 L1478.6 542.2 L1478.7 542.2M1498 545.2 L1498.2 545.2 L1499.4 545.3 L1500.6 545.3 L1501.9 545.3 L1503.1 545.3 L1504.4 545.4 L1505.6 545.4 L1506.8 545.4 L1508 545.4 L1508.1 545.4M1526.3 546.6 L1526.4 546.6 L1527.6 546.6 L1528.8 546.7 L1530 546.7 L1531.2 546.8 L1532.4 546.8 L1533.7 546.8 L1534.9 546.8 L1536.1 546.8 L1536.2 546.8M1554.8 546 L1554.9 546 L1556.1 546 L1557.3 546 L1558.5 546.1 L1559.8 546.1 L1561 546.1 L1562.2 546.1 L1563.4 546.1 L1564.6 546.1 L1564.7 546.1M1583.3 541.2 L1584 541.2 L1585 541.2 L1585.9 541.2 L1586.9 541.2 L1587.8 541.2 L1588.8 541.2 L1589.8 541.2 L1590.8 541M1611.3 531.6 L1611.4 531.6 L1612.4 531.2 L1613.4 530.8 L1614.4 530.5 L1615.3 530.2 L1616.3 529.9 L1617.2 529.5 L1618.1 529.2 L1619 528.8M1636.3 518 L1637.2 517.5 L1638 516.9 L1638.9 516.4 L1639.7 515.9 L1640.5 515.4 L1641.4 514.9 L1642.2 514.4 L1643.1 513.8M1660.4 501.6 L1660.5 501.6 L1661.5 501.2 L1662.6 500.9 L1663.7 500.6 L1664.7 500.3 L1665.8 500.1 L1666.9 499.8 L1668 499.6 L1669.2 499.3 L1669.4 499.2" fill="none" stroke="#00ff00" stroke-width="7.0" stroke-linecap="round" stroke-linejoin="round"/>
<path d="M1039.5 91.1 L1039.7 91 L1040.7 90.7 L1041.8 90.3 L1043 89.9 L1044.3 89.5 L1045.6 89.1 L1046.9 88.7 L1048.2 88.3 L1048.5 88.2M1068.4 84.5 L1068.6 84.5 L1069.8 84.5 L1071 84.5 L1072.2 84.5 L1073.4 84.5 L1074.6 84.5 L1075.7 84.5 L1076.9 84.5 L1078.1 84.5 L1078.2 84.5M1097.2 81.8 L1098.3 81.8 L1099.4 81.9 L1100.5 82 L1101.7 82.1 L1102.8 82.2 L1103.9 82.3 L1105 82.4 L1106 82.4M1123.8 76.9 L1124.5 76.4 L1125.3 75.7 L1126.1 75.1 L1126.9 74.4 L1127.7 73.8 L1128.5 73.2 L1129.4 72.6 L1130.2 72.2M1150 70.4 L1150.2 70.4 L1151.4 70.6 L1152.6 70.7 L1153.8 70.9 L1155 71 L1156.2 71.2 L1157.4 71.4 L1158.6 71.6 L1159.8 71.7 L1159.8 71.7M1177.8 72 L1177.8 72 L1179 72.1 L1180.2 72.2 L1181.4 72.3 L1182.6 72.4 L1183.8 72.5 L1185.1 72.6 L1186.3 72.6 L1187.5 72.6 L1187.6 72.6M1206.5 69.7 L1206.6 69.7 L1207.7 69.4 L1208.8 69.1 L1209.9 68.7 L1211 68.4 L1212.2 68 L1213.3 67.7 L1214.4 67.3 L1215.5 66.9 L1215.6 66.9M1234.4 60.2 L1234.5 60.2 L1235.6 59.9 L1236.7 59.8 L1237.8 59.6 L1238.9 59.4 L1240 59.3 L1241.1 59.2 L1242.2 59.1 L1243.3 59M1262.5 58.4 L1262.6 58.4 L1263.7 58.6 L1264.9 58.8 L1266.1 59 L1267.3 59.2 L1268.4 59.4 L1269.6 59.5 L1270.7 59.6 L1271.7 59.6M1288.1 49.9 L1288.9 49.6 L1289.9 49.2 L1290.9 48.9 L1291.8 48.7 L1292.8 48.5 L1293.8 48.3 L1294.8 48.2 L1295.7 48.1M1315 52.3 L1315.1 52.3 L1316.3 52.6 L1317.4 52.9 L1318.6 53.2 L1319.7 53.4 L1320.8 53.7 L1322 53.9 L1323.1 54.1 L1324.3 54.3 L1324.3 54.3M1343.7 53.3 L1343.7 53.3 L1344.9 53.1 L1346 52.9 L1347.2 52.7 L1348.3 52.5 L1349.4 52.3 L1350.6 52 L1351.7 51.8 L1352.9 51.6 L1352.9 51.6M1372.3 49 L1372.3 49 L1373.5 49.1 L1374.6 49.3 L1375.8 49.4 L1376.9 49.6 L1378 49.7 L1379.2 49.9 L1380.3 50.1 L1381.5 50.3 L1381.5 50.3M1400.9 51.3 L1401 51.3 L1402.1 51.3 L1403.3 51.3 L1404.4 51.3 L1405.6 51.4 L1406.7 51.4 L1407.8 51.4 L1409 51.3 L1410.1 51.3 L1410.2 51.3M1429.5 49.3 L1429.7 49.3 L1430.9 49.3 L1432.1 49.3 L1433.4 49.3 L1434.6 49.4 L1435.8 49.4 L1437.1 49.4 L1438.3 49.4 L1439.5 49.5 L1439.7 49.5M1459.1 47.7 L1460.1 47.4 L1461.2 47.1 L1462.2 46.8 L1463.2 46.5 L1464.3 46.2 L1465.3 45.9 L1466.4 45.6 L1467.4 45.4M1486.9 43.3 L1487 43.3 L1488.1 43.2 L1489.2 43.1 L1490.4 43.1 L1491.5 43 L1492.6 42.9 L1493.8 42.8 L1494.9 42.8 L1496.1 42.7 L1496.2 42.7M1516.5 41 L1516.6 40.9 L1517.8 40.8 L1518.9 40.7 L1520 40.5 L1521.2 40.4 L1522.3 40.2 L1523.4 40.1 L1524.5 40 L1525.7 39.9 L1525.7 39.9M1545.1 40.9 L1546.1 41 L1547.2 41.2 L1548.2 41.3 L1549.2 41.4 L1550.3 41.6 L1551.3 41.7 L1552.4 41.9 L1553.4 42.1M1572.7 46.8 L1572.7 46.8 L1573.8 47.2 L1574.9 47.5 L1575.9 47.8 L1577 48.2 L1578 48.5 L1579 48.8 L1580.1 49.1 L1581.2 49.4M1600.4 51.2 L1600.8 50.9 L1601.2 50.6 L1601.6 50.2 L1602 49.8 L1602.4 49.4 L1602.7 49.1 L1603.1 48.8 L1603.5 48.6 L1604 48.5 L1604.5 48.4 L1604.9 48.4 L1605.4 48.4 L1605.8 48.4 L1606.2 48.4 L1606.7 48.5 L1607.1 48.6 L1607.6 48.7 L1608.1 48.9M1625.1 59.3 L1625.8 59.6 L1626.6 60 L1627.5 60.4 L1628.3 60.8 L1629.1 61.1 L1629.9 61.6 L1630.7 62 L1631.3 62.4M1645.9 77.4 L1646.6 78.1 L1647.3 78.7 L1648 79.4 L1648.7 80 L1649.4 80.6 L1650.1 81.3 L1650.9 81.9 L1651.7 82.6 L1651.7 82.6M1670.4 96.2 L1670.6 96.3 L1671.8 96.7 L1673 97 L1674.1 97.3 L1675.3 97.6 L1676.4 97.8 L1677.4 98 L1678.5 98.2 L1679 98.3" fill="none" stroke="#00ffff" stroke-width="7.0" stroke-linecap="round" stroke-linejoin="round"/>
<path d="M1229.3 505.6 L1231.5 510.6 L1236.9 511.1 L1232.8 514.8 L1234 520.1 L1229.3 517.4 L1224.6 520.1 L1225.7 514.8 L1221.7 511.1 L1227.1 510.6Z" fill="#008000"/><path d="M1233 509.5 L1235.2 514.5 L1240.6 515.1 L1236.6 518.7 L1237.7 524 L1233 521.3 L1228.3 524 L1229.4 518.7 L1225.4 515.1 L1230.8 514.5Z" fill="#008000"/><path d="M1236.7 509.8 L1238.9 514.8 L1244.3 515.3 L1240.3 519 L1241.4 524.3 L1236.7 521.6 L1232 524.3 L1233.1 519 L1229.1 515.3 L1234.5 514.8Z" fill="#008000"/><path d="M1240.4 512.8 L1242.6 517.7 L1248 518.3 L1244 521.9 L1245.1 527.2 L1240.4 524.5 L1235.7 527.2 L1236.8 521.9 L1232.8 518.3 L1238.2 517.7Z" fill="#008000"/><path d="M1244.1 512.1 L1246.3 517.1 L1251.7 517.6 L1247.7 521.3 L1248.8 526.6 L1244.1 523.9 L1239.4 526.6 L1240.5 521.3 L1236.5 517.6 L1241.9 517.1Z" fill="#008000"/><path d="M1247.8 515.3 L1250 520.3 L1255.4 520.8 L1251.4 524.5 L1252.5 529.8 L1247.8 527.1 L1243.1 529.8 L1244.2 524.5 L1240.2 520.8 L1245.6 520.3Z" fill="#008000"/><path d="M1251.5 514.9 L1253.7 519.9 L1259.1 520.5 L1255.1 524.1 L1256.2 529.4 L1251.5 526.7 L1246.8 529.4 L1247.9 524.1 L1243.9 520.5 L1249.3 519.9Z" fill="#008000"/><path d="M1255.2 518.2 L1257.4 523.2 L1262.8 523.7 L1258.8 527.4 L1259.9 532.7 L1255.2 530 L1250.5 532.7 L1251.7 527.4 L1247.6 523.7 L1253 523.2Z" fill="#008000"/><path d="M1258.9 517.9 L1261.1 522.9 L1266.5 523.4 L1262.5 527.1 L1263.6 532.4 L1258.9 529.7 L1254.2 532.4 L1255.4 527.1 L1251.3 523.4 L1256.7 522.9Z" fill="#008000"/><path d="M1262.6 521.2 L1264.9 526.2 L1270.3 526.8 L1266.2 530.4 L1267.3 535.7 L1262.6 533 L1257.9 535.7 L1259.1 530.4 L1255 526.8 L1260.4 526.2Z" fill="#008000"/><path d="M1266.4 520.6 L1268.6 525.6 L1274 526.1 L1269.9 529.8 L1271.1 535.1 L1266.4 532.4 L1261.6 535.1 L1262.8 529.8 L1258.7 526.1 L1264.1 525.6Z" fill="#008000"/><path d="M1270.1 523 L1272.3 527.9 L1277.7 528.5 L1273.6 532.1 L1274.8 537.4 L1270.1 534.7 L1265.4 537.4 L1266.5 532.1 L1262.4 528.5 L1267.8 527.9Z" fill="#008000"/><path d="M1273.8 521.7 L1276 526.7 L1281.4 527.3 L1277.3 530.9 L1278.5 536.2 L1273.8 533.5 L1269.1 536.2 L1270.2 530.9 L1266.2 527.3 L1271.6 526.7Z" fill="#008000"/><path d="M1277.5 524.1 L1279.7 529.1 L1285.1 529.6 L1281.1 533.3 L1282.2 538.6 L1277.5 535.9 L1272.8 538.6 L1273.9 533.3 L1269.9 529.6 L1275.3 529.1Z" fill="#008000"/><path d="M1281.2 523 L1283.4 527.9 L1288.8 528.5 L1284.8 532.2 L1285.9 537.5 L1281.2 534.7 L1276.5 537.5 L1277.6 532.2 L1273.6 528.5 L1279 527.9Z" fill="#008000"/><path d="M1284.9 525.7 L1287.1 530.7 L1292.5 531.2 L1288.5 534.9 L1289.6 540.2 L1284.9 537.5 L1280.2 540.2 L1281.3 534.9 L1277.3 531.2 L1282.7 530.7Z" fill="#008000"/><path d="M1288.6 524.8 L1290.8 529.8 L1296.2 530.3 L1292.2 534 L1293.3 539.3 L1288.6 536.6 L1283.9 539.3 L1285 534 L1281 530.3 L1286.4 529.8Z" fill="#008000"/><path d="M1292.3 527.2 L1294.5 532.1 L1299.9 532.7 L1295.9 536.3 L1297 541.6 L1292.3 538.9 L1287.6 541.6 L1288.7 536.3 L1284.7 532.7 L1290.1 532.1Z" fill="#008000"/><path d="M1296 525.9 L1298.2 530.8 L1303.6 531.4 L1299.6 535 L1300.7 540.3 L1296 537.6 L1291.3 540.3 L1292.4 535 L1288.4 531.4 L1293.8 530.8Z" fill="#008000"/><path d="M1299.7 528.2 L1301.9 533.1 L1307.3 533.7 L1303.3 537.3 L1304.4 542.6 L1299.7 539.9 L1295 542.6 L1296.1 537.3 L1292.1 533.7 L1297.5 533.1Z" fill="#008000"/><path d="M1303.4 526.9 L1305.6 531.8 L1311 532.4 L1307 536 L1308.1 541.4 L1303.4 538.6 L1298.7 541.4 L1299.9 536 L1295.8 532.4 L1301.2 531.8Z" fill="#008000"/><path d="M1307.1 529.2 L1309.3 534.1 L1314.7 534.7 L1310.7 538.3 L1311.8 543.6 L1307.1 540.9 L1302.4 543.6 L1303.6 538.3 L1299.5 534.7 L1304.9 534.1Z" fill="#008000"/><path d="M1310.8 527.8 L1313.1 532.8 L1318.5 533.4 L1314.4 537 L1315.5 542.3 L1310.8 539.6 L1306.1 542.3 L1307.3 537 L1303.2 533.4 L1308.6 532.8Z" fill="#008000"/><path d="M1314.6 530.1 L1316.8 535.1 L1322.2 535.6 L1318.1 539.3 L1319.3 544.6 L1314.6 541.9 L1309.9 544.6 L1311 539.3 L1306.9 535.6 L1312.3 535.1Z" fill="#008000"/><path d="M1335.8 529.9 L1338 534.9 L1343.4 535.4 L1339.4 539.1 L1340.5 544.4 L1335.8 541.7 L1331.1 544.4 L1332.2 539.1 L1328.2 535.4 L1333.6 534.9Z" fill="#008000"/><path d="M1354.4 529.9 L1356.6 534.9 L1362 535.4 L1358 539.1 L1359.1 544.4 L1354.4 541.7 L1349.7 544.4 L1350.8 539.1 L1346.8 535.4 L1352.2 534.9Z" fill="#008000"/><path d="M1372.9 529.9 L1375.1 534.9 L1380.5 535.4 L1376.5 539.1 L1377.6 544.4 L1372.9 541.7 L1368.2 544.4 L1369.3 539.1 L1365.3 535.4 L1370.7 534.9Z" fill="#008000"/><path d="M1391.4 529.9 L1393.6 534.9 L1399 535.4 L1395 539.1 L1396.1 544.4 L1391.4 541.7 L1386.7 544.4 L1387.8 539.1 L1383.8 535.4 L1389.2 534.9Z" fill="#008000"/><path d="M1409.3 529.2 L1411.5 534.2 L1416.9 534.7 L1412.9 538.4 L1414 543.7 L1409.3 541 L1404.6 543.7 L1405.7 538.4 L1401.7 534.7 L1407.1 534.2Z" fill="#008000"/><path d="M1428.6 529.2 L1430.8 534.2 L1436.2 534.7 L1432.2 538.4 L1433.3 543.7 L1428.6 541 L1423.9 543.7 L1425 538.4 L1421 534.7 L1426.4 534.2Z" fill="#008000"/><path d="M1447.9 529.8 L1450.1 534.8 L1455.5 535.3 L1451.5 539 L1452.6 544.3 L1447.9 541.6 L1443.2 544.3 L1444.3 539 L1440.3 535.3 L1445.7 534.8Z" fill="#008000"/><path d="M1465.2 530.5 L1467.4 535.5 L1472.8 536 L1468.8 539.7 L1469.9 545 L1465.2 542.3 L1460.5 545 L1461.6 539.7 L1457.6 536 L1463 535.5Z" fill="#008000"/><path d="M1484.4 531.1 L1486.6 536.1 L1492 536.6 L1488 540.3 L1489.1 545.6 L1484.4 542.9 L1479.7 545.6 L1480.8 540.3 L1476.8 536.6 L1482.2 536.1Z" fill="#008000"/><path d="M1503.1 533.1 L1505.3 538.1 L1510.7 538.6 L1506.7 542.3 L1507.8 547.6 L1503.1 544.9 L1498.4 547.6 L1499.5 542.3 L1495.5 538.6 L1500.9 538.1Z" fill="#008000"/><path d="M1521.7 534.5 L1523.9 539.5 L1529.3 540 L1525.3 543.7 L1526.4 549 L1521.7 546.3 L1517 549 L1518.1 543.7 L1514.1 540 L1519.5 539.5Z" fill="#008000"/><path d="M1541 534.5 L1543.2 539.5 L1548.6 540 L1544.6 543.7 L1545.7 549 L1541 546.3 L1536.3 549 L1537.4 543.7 L1533.4 540 L1538.8 539.5Z" fill="#008000"/><path d="M1558.9 533.8 L1561.1 538.8 L1566.5 539.3 L1562.5 543 L1563.6 548.3 L1558.9 545.6 L1554.2 548.3 L1555.3 543 L1551.3 539.3 L1556.7 538.8Z" fill="#008000"/><path d="M1577.5 531.8 L1579.7 536.8 L1585.1 537.3 L1581.1 541 L1582.2 546.3 L1577.5 543.6 L1572.8 546.3 L1573.9 541 L1569.9 537.3 L1575.3 536.8Z" fill="#008000"/><path d="M1595.5 529.2 L1597.7 534.2 L1603.1 534.7 L1599.1 538.4 L1600.2 543.7 L1595.5 541 L1590.8 543.7 L1591.9 538.4 L1587.9 534.7 L1593.3 534.2Z" fill="#008000"/>
<line x1="1317.2" y1="28.4" x2="1317.2" y2="573.9" stroke="#777" stroke-width="2.9" stroke-dasharray="13 13.95" stroke-dashoffset="8.45"/>
<line x1="1469.2" y1="28.4" x2="1469.2" y2="573.9" stroke="#777" stroke-width="2.9" stroke-dasharray="13 13.95" stroke-dashoffset="8.45"/>
<g stroke="#000" stroke-width="2.7" stroke-linecap="butt"><line x1="992.7" y1="573.9" x2="992.7" y2="578.9"/><line x1="992.7" y1="28.4" x2="992.7" y2="23.4"/><line x1="1039" y1="573.9" x2="1039" y2="583.9"/><line x1="1039" y1="28.4" x2="1039" y2="18.4"/><line x1="1085.4" y1="573.9" x2="1085.4" y2="578.9"/><line x1="1085.4" y1="28.4" x2="1085.4" y2="23.4"/><line x1="1131.8" y1="573.9" x2="1131.8" y2="583.9"/><line x1="1131.8" y1="28.4" x2="1131.8" y2="18.4"/><line x1="1178.1" y1="573.9" x2="1178.1" y2="578.9"/><line x1="1178.1" y1="28.4" x2="1178.1" y2="23.4"/><line x1="1224.5" y1="573.9" x2="1224.5" y2="583.9"/><line x1="1224.5" y1="28.4" x2="1224.5" y2="18.4"/><line x1="1270.8" y1="573.9" x2="1270.8" y2="578.9"/><line x1="1270.8" y1="28.4" x2="1270.8" y2="23.4"/><line x1="1317.2" y1="573.9" x2="1317.2" y2="583.9"/><line x1="1317.2" y1="28.4" x2="1317.2" y2="18.4"/><line x1="1363.5" y1="573.9" x2="1363.5" y2="578.9"/><line x1="1363.5" y1="28.4" x2="1363.5" y2="23.4"/><line x1="1409.8" y1="573.9" x2="1409.8" y2="583.9"/><line x1="1409.8" y1="28.4" x2="1409.8" y2="18.4"/><line x1="1456.2" y1="573.9" x2="1456.2" y2="578.9"/><line x1="1456.2" y1="28.4" x2="1456.2" y2="23.4"/><line x1="1502.5" y1="573.9" x2="1502.5" y2="583.9"/><line x1="1502.5" y1="28.4" x2="1502.5" y2="18.4"/><line x1="1548.9" y1="573.9" x2="1548.9" y2="578.9"/><line x1="1548.9" y1="28.4" x2="1548.9" y2="23.4"/><line x1="1595.2" y1="573.9" x2="1595.2" y2="583.9"/><line x1="1595.2" y1="28.4" x2="1595.2" y2="18.4"/><line x1="1641.6" y1="573.9" x2="1641.6" y2="578.9"/><line x1="1641.6" y1="28.4" x2="1641.6" y2="23.4"/><line x1="1687.9" y1="573.9" x2="1687.9" y2="583.9"/><line x1="1687.9" y1="28.4" x2="1687.9" y2="18.4"/><line x1="1734.3" y1="573.9" x2="1734.3" y2="578.9"/><line x1="1734.3" y1="28.4" x2="1734.3" y2="23.4"/><line x1="992.7" y1="547.9" x2="982.7" y2="547.9"/><line x1="1734.3" y1="547.9" x2="1744.3" y2="547.9"/><line x1="992.7" y1="495.9" x2="987.7" y2="495.9"/><line x1="1734.3" y1="495.9" x2="1739.3" y2="495.9"/><line x1="992.7" y1="444" x2="982.7" y2="444"/><line x1="1734.3" y1="444" x2="1744.3" y2="444"/><line x1="992.7" y1="392" x2="987.7" y2="392"/><line x1="1734.3" y1="392" x2="1739.3" y2="392"/><line x1="992.7" y1="340.1" x2="982.7" y2="340.1"/><line x1="1734.3" y1="340.1" x2="1744.3" y2="340.1"/><line x1="992.7" y1="288.1" x2="987.7" y2="288.1"/><line x1="1734.3" y1="288.1" x2="1739.3" y2="288.1"/><line x1="992.7" y1="236.2" x2="982.7" y2="236.2"/><line x1="1734.3" y1="236.2" x2="1744.3" y2="236.2"/><line x1="992.7" y1="184.2" x2="987.7" y2="184.2"/><line x1="1734.3" y1="184.2" x2="1739.3" y2="184.2"/><line x1="992.7" y1="132.3" x2="982.7" y2="132.3"/><line x1="1734.3" y1="132.3" x2="1744.3" y2="132.3"/><line x1="992.7" y1="80.3" x2="987.7" y2="80.3"/><line x1="1734.3" y1="80.3" x2="1739.3" y2="80.3"/><line x1="992.7" y1="28.4" x2="982.7" y2="28.4"/><line x1="1734.3" y1="28.4" x2="1744.3" y2="28.4"/><rect x="992.7" y="28.4" width="741.6" height="545.5" fill="none"/></g><g font-family="Liberation Sans, Arial, sans-serif" font-size="32" fill="#000"><text transform="translate(1039 617.1) scale(1.03 1)" text-anchor="middle">300</text><text transform="translate(1131.8 617.1) scale(1.03 1)" text-anchor="middle">350</text><text transform="translate(1224.5 617.1) scale(1.03 1)" text-anchor="middle">400</text><text transform="translate(1317.2 617.1) scale(1.03 1)" text-anchor="middle">450</text><text transform="translate(1409.8 617.1) scale(1.03 1)" text-anchor="middle">500</text><text transform="translate(1502.5 617.1) scale(1.03 1)" text-anchor="middle">550</text><text transform="translate(1595.2 617.1) scale(1.03 1)" text-anchor="middle">600</text><text transform="translate(1687.9 617.1) scale(1.03 1)" text-anchor="middle">650</text><text transform="translate(975.2 557.6) scale(1.03 1)" text-anchor="end">0</text><text transform="translate(975.2 453.7) scale(1.03 1)" text-anchor="end">20</text><text transform="translate(975.2 349.8) scale(1.03 1)" text-anchor="end">40</text><text transform="translate(975.2 245.9) scale(1.03 1)" text-anchor="end">60</text><text transform="translate(975.2 142) scale(1.03 1)" text-anchor="end">80</text></g>
<rect x="1205.8" y="195.6" width="332.5" height="228.4" fill="#fff" stroke="#6a6a6a" stroke-width="1.6"/><line x1="1220.3" y1="213.9" x2="1280" y2="213.9" stroke="#ff0000" stroke-width="7.0" stroke-linecap="round"/><text transform="translate(1294 222.6) scale(1.035 1)" font-family="Liberation Sans, Arial, sans-serif" font-size="25.8" fill="#000">Refl - measured</text><line x1="1220.3" y1="246.6" x2="1280" y2="246.6" stroke="#008000" stroke-width="7.0" stroke-linecap="round"/><text transform="translate(1294 255.3) scale(1.035 1)" font-family="Liberation Sans, Arial, sans-serif" font-size="25.8" fill="#000">Transm - measured</text><path d="M1220.5 279.2 H1240.4 M1259.5 279.2 H1279.5" stroke="#008000" stroke-width="2.6" stroke-linecap="round"/><path d="M1250.2 271.5 L1252.4 276.4 L1257.7 277 L1253.7 280.6 L1254.8 285.8 L1250.2 283.2 L1245.6 285.8 L1246.7 280.6 L1242.7 277 L1248 276.4Z" fill="#008000"/><text transform="translate(1294 287.9) scale(1.035 1)" font-family="Liberation Sans, Arial, sans-serif" font-size="25.8" fill="#000">Transm - small spot</text><line x1="1220.3" y1="311.9" x2="1280" y2="311.9" stroke="#0000ff" stroke-width="7.0" stroke-linecap="round"/><text transform="translate(1294 320.6) scale(1.035 1)" font-family="Liberation Sans, Arial, sans-serif" font-size="25.8" fill="#000">Absorb - measured</text><line x1="1220.3" y1="344.6" x2="1280.2" y2="344.6" stroke="#ff8000" stroke-width="7.0" stroke-linecap="round" stroke-dasharray="10.4 18.4"/><text transform="translate(1294 353.3) scale(1.035 1)" font-family="Liberation Sans, Arial, sans-serif" font-size="25.8" fill="#000">Refl - simulation</text><line x1="1220.3" y1="377.2" x2="1280.2" y2="377.2" stroke="#00ff00" stroke-width="7.0" stroke-linecap="round" stroke-dasharray="10.4 18.4"/><text transform="translate(1294 385.9) scale(1.035 1)" font-family="Liberation Sans, Arial, sans-serif" font-size="25.8" fill="#000">Transm - simulation</text><line x1="1220.3" y1="409.9" x2="1280.2" y2="409.9" stroke="#00ffff" stroke-width="7.0" stroke-linecap="round" stroke-dasharray="10.4 18.4"/><text transform="translate(1294 418.6) scale(1.035 1)" font-family="Liberation Sans, Arial, sans-serif" font-size="25.8" fill="#000">Absorb - simulation</text>
<text transform="translate(1363.5 657.7) scale(1.03 1)" text-anchor="middle" font-family="Liberation Sans, Arial, sans-serif" font-size="36.6" fill="#000">Wavelength (nm)</text>
<text transform="translate(920 300.9) rotate(-90)" text-anchor="middle" font-family="Liberation Sans, Arial, sans-serif" font-size="37.4" fill="#000">Optical Response (%)</text></svg></body></html>
